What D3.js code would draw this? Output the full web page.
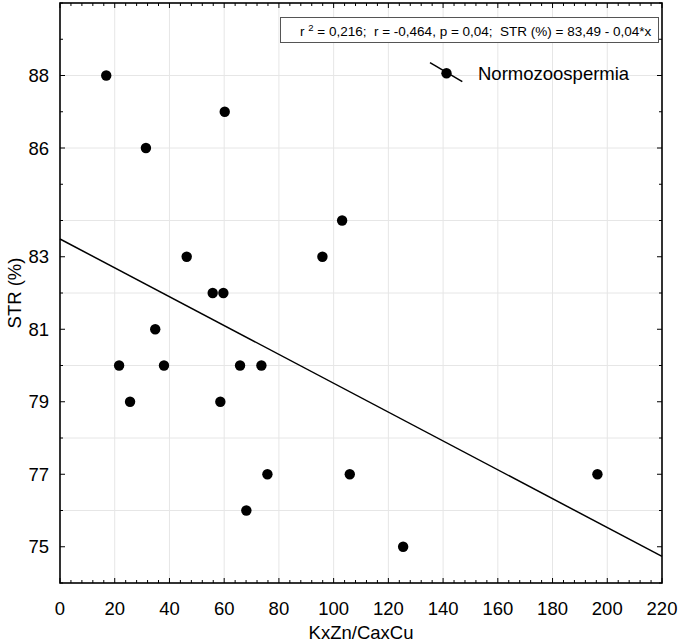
<!DOCTYPE html>
<html>
<head>
<meta charset="utf-8">
<script src="https://cdn.jsdelivr.net/npm/d3@7/dist/d3.min.js"></script>
<style>
  body { margin: 0; background: #fff; }
  text { font-family: "Liberation Sans", Arial, sans-serif; fill: #000; }
</style>
</head>
<body>
<svg id="chart" width="681" height="643"></svg>
<script>
// ---- data ----
const kxznCaxcu = [16.9, 60.2, 31.4, 103.1, 46.3, 95.9, 55.8, 59.7, 34.8, 21.6, 38.0, 65.8, 73.6, 25.6, 58.6, 75.8, 105.9, 68.1, 125.4, 196.4];
const strPct    = [88,   87,   86,   84,    83,   83,   82,   82,   81,   80,   80,   80,   80,   79,   79,   77,   77,    76,   75,    77];
const xTickValues = [0, 20, 40, 60, 80, 100, 120, 140, 160, 180, 200, 220];
const yTickValues = [88, 86, 83, 81, 79, 77, 75];
const yTickLabels = ["88", "86", "83", "81", "79", "77", "75"];
const yGridValues = [76, 78, 80, 82, 84, 86, 88];
const regIntercept = 83.49;
const regSlope = -0.0398;
const seriesName = "Normozoospermia";
const statsParts = ["r ", "2", " = 0,216;  r = -0,464, p = 0,04;  STR (%) = 83,49 - 0,04*x"];
const xTitle = "KxZn/CaxCu";
const yTitle = "STR (%)";

// ---- layout ----
const L = 60, R = 662, T = 3, B = 583;
const svg = d3.select("#chart");
const x = d3.scaleLinear().domain([0, 220]).range([L, R]);
const y = d3.scaleLinear().domain([74, 90]).range([B, T]);

// grid
svg.append("g").selectAll("line").data(d3.range(20, 220, 20)).join("line")
  .attr("x1", d => x(d)).attr("x2", d => x(d)).attr("y1", T).attr("y2", B)
  .attr("stroke", "#e6e6e6").attr("stroke-width", 1);
svg.append("g").selectAll("line").data(yGridValues).join("line")
  .attr("y1", d => y(d)).attr("y2", d => y(d)).attr("x1", L).attr("x2", R)
  .attr("stroke", "#e6e6e6").attr("stroke-width", 1);

// axes (ticks inward)
const xMinor = d3.range(0, 221, 4);
const yMinor = d3.range(74, 91, 1);
function tickLen(isMajor) { return isMajor ? 5 : 3; }
const tk = svg.append("g").attr("stroke", "#000").attr("stroke-width", 1);
xMinor.forEach(v => {
  const maj = v % 20 === 0;
  tk.append("line").attr("x1", x(v)).attr("x2", x(v)).attr("y1", B).attr("y2", B - tickLen(maj));
  tk.append("line").attr("x1", x(v)).attr("x2", x(v)).attr("y1", T).attr("y2", T + tickLen(maj));
});
yMinor.forEach(v => {
  const maj = yTickValues.includes(v);
  tk.append("line").attr("y1", y(v)).attr("y2", y(v)).attr("x1", L).attr("x2", L + tickLen(maj));
  tk.append("line").attr("y1", y(v)).attr("y2", y(v)).attr("x1", R).attr("x2", R - tickLen(maj));
});

// frame
svg.append("rect").attr("x", L).attr("y", T).attr("width", R - L).attr("height", B - T)
  .attr("fill", "none").attr("stroke", "#000").attr("stroke-width", 1.6);

// tick labels
svg.append("g").selectAll("text").data(xTickValues).join("text")
  .attr("x", d => x(d)).attr("y", 615).attr("text-anchor", "middle")
  .attr("font-size", 18.5).text(d => d);
svg.append("g").selectAll("text").data(yTickValues).join("text")
  .attr("x", 49).attr("y", d => y(d) + 6.6).attr("text-anchor", "end")
  .attr("font-size", 18.5).text((d, i) => yTickLabels[i]);

// titles
svg.append("text").attr("x", (L + R) / 2).attr("y", 639).attr("text-anchor", "middle")
  .attr("font-size", 18.5).text(xTitle);
svg.append("text").attr("transform", `translate(20.5,${(T + B) / 2}) rotate(-90)`)
  .attr("text-anchor", "middle").attr("font-size", 18.5).text(yTitle);

// regression line
svg.append("line")
  .attr("x1", x(0)).attr("y1", y(regIntercept))
  .attr("x2", x(220)).attr("y2", y(regIntercept + regSlope * 220))
  .attr("stroke", "#000").attr("stroke-width", 1.5);

// points
svg.append("g").selectAll("circle").data(kxznCaxcu).join("circle")
  .attr("cx", d => x(d)).attr("cy", (d, i) => y(strPct[i])).attr("r", 5.2).attr("fill", "#000");

// stats box
svg.append("rect").attr("x", 280.5).attr("y", 17.5).attr("width", 378).attr("height", 25)
  .attr("fill", "#fff").attr("stroke", "#555").attr("stroke-width", 1);
const st = svg.append("text").attr("x", 300).attr("y", 36).attr("font-size", 13.5)
  .style("white-space", "pre");
st.append("tspan").text(statsParts[0]);
st.append("tspan").attr("font-size", 9.5).attr("dy", -5).text(statsParts[1]);
st.append("tspan").attr("dy", 5).text(statsParts[2]);

// legend
svg.append("line").attr("x1", 430).attr("y1", 62.7).attr("x2", 462.3).attr("y2", 81.7)
  .attr("stroke", "#000").attr("stroke-width", 1.5);
svg.append("circle").attr("cx", 446.5).attr("cy", 73.2).attr("r", 5.2).attr("fill", "#000");
svg.append("text").attr("x", 478).attr("y", 79.5).attr("font-size", 18.5).text(seriesName);
</script>
</body>
</html>
